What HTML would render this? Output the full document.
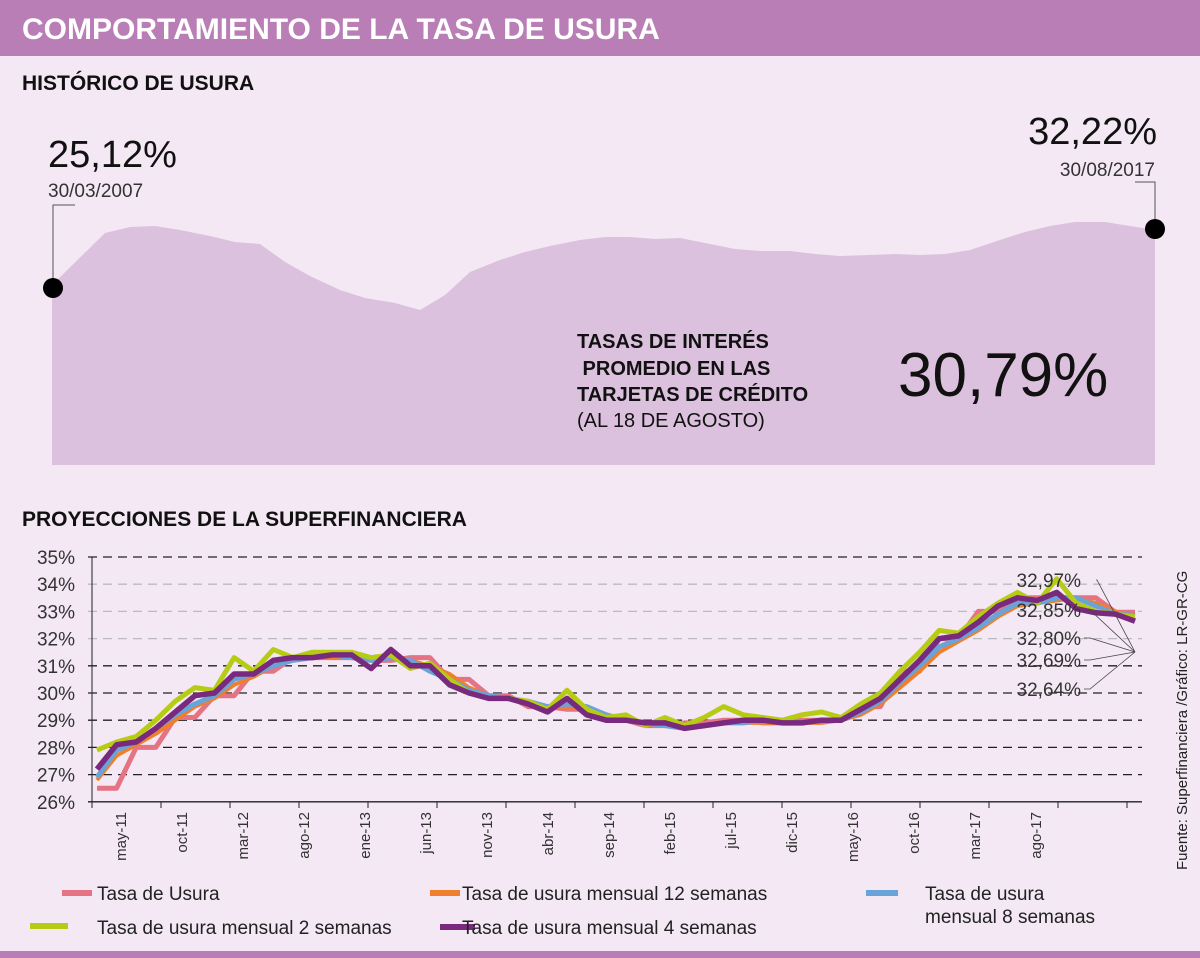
<!DOCTYPE html>
<html><head><meta charset="utf-8"><style>
body{margin:0;width:1200px;height:958px;overflow:hidden;background:#f3e8f3;font-family:"Liberation Sans",sans-serif}
svg{position:absolute;left:0;top:0}
</style></head><body>
<svg width="1200" height="958">
<rect x="0" y="0" width="1200" height="958" fill="#f3e8f3"/>
<rect x="0" y="0" width="1200" height="56" fill="#b97eb6"/>
<text x="22" y="39" fill="#fff" font-size="30" font-weight="bold">COMPORTAMIENTO DE LA TASA DE USURA</text>
<text x="22" y="90" fill="#111" font-size="21" font-weight="bold">HISTÓRICO DE USURA</text>
<path id="area" fill="#dcc1de"/>
<text x="48" y="167" font-size="38" fill="#111">25,12%</text>
<text x="48" y="197" font-size="19" fill="#333">30/03/2007</text>
<polyline points="53,288 53,205 75,205" fill="none" stroke="#555" stroke-width="1"/>
<circle cx="53" cy="288" r="10" fill="#000"/>
<text x="1157" y="144" font-size="38" fill="#111" text-anchor="end">32,22%</text>
<text x="1155" y="176" font-size="19" fill="#333" text-anchor="end">30/08/2017</text>
<polyline points="1155,228 1155,182 1135,182" fill="none" stroke="#555" stroke-width="1"/>
<circle cx="1155" cy="229" r="10" fill="#000"/>
<text x="577" y="348" font-size="20" font-weight="bold" fill="#111">TASAS DE INTERÉS</text>
<text x="577" y="375" font-size="20" font-weight="bold" fill="#111">&#160;PROMEDIO EN LAS</text>
<text x="577" y="401" font-size="20" font-weight="bold" fill="#111">TARJETAS DE CRÉDITO</text>
<text x="577" y="427" font-size="20" fill="#111">(AL 18 DE AGOSTO)</text>
<text x="898" y="396" font-size="62" fill="#111">30,79%</text>
<text x="22" y="526" fill="#111" font-size="21" font-weight="bold">PROYECCIONES DE LA SUPERFINANCIERA</text>
<g id="chart"></g>
<text transform="translate(1187,870) rotate(-90)" font-size="15" fill="#222">Fuente: Superfinanciera /Gráfico: LR-GR-CG</text>
<g>
<line x1="62" y1="893" x2="92" y2="893" stroke="#e57383" stroke-width="6"/>
<text x="97" y="900" font-size="19" fill="#222">Tasa de Usura</text>
<line x1="430" y1="893" x2="460" y2="893" stroke="#f07f2c" stroke-width="6"/>
<text x="462" y="900" font-size="19" fill="#222">Tasa de usura mensual 12 semanas</text>
<line x1="866" y1="893" x2="898" y2="893" stroke="#6aa3d8" stroke-width="6"/>
<text x="925" y="900" font-size="19" fill="#222">Tasa de usura</text>
<text x="925" y="923" font-size="19" fill="#222">mensual 8 semanas</text>
<line x1="30" y1="926" x2="68" y2="926" stroke="#b6cc14" stroke-width="6"/>
<text x="97" y="934" font-size="19" fill="#222">Tasa de usura mensual 2 semanas</text>
<line x1="440" y1="927" x2="475" y2="927" stroke="#7a2a7e" stroke-width="6"/>
<text x="462" y="934" font-size="19" fill="#222">Tasa de usura mensual 4 semanas</text>
</g>
<rect x="0" y="951" width="1200" height="7" fill="#b97eb6"/>
</svg>
<script>
const areaX=[52,105,130,155,180,210,235,260,285,310,340,365,395,420,445,470,500,525,550,580,605,630,655,680,710,735,760,790,815,840,870,895,920,945,970,1000,1025,1050,1075,1105,1130,1155];
const areaY=[285,233,227,226,230,236,242,244,262,276,290,298,303,310,295,272,260,252,246,240,237,237,239,238,244,249,251,251,254,256,255,254,255,254,250,240,232,226,222,222,226,230];
const yTicks=[26,27,28,29,30,31,32,33,34,35];
const xLabels=["may-11","oct-11","mar-12","ago-12","ene-13","jun-13","nov-13","abr-14","sep-14","feb-15","jul-15","dic-15","may-16","oct-16","mar-17","ago-17"];
const purple=[27.2,28.1,28.2,28.7,29.3,29.9,30.0,30.7,30.7,31.2,31.3,31.3,31.4,31.4,30.9,31.6,31.0,31.0,30.3,30.0,29.8,29.8,29.6,29.3,29.8,29.2,29.0,29.0,28.9,28.9,28.7,28.8,28.9,29.0,29.0,28.9,28.9,29.0,29.0,29.4,29.8,30.5,31.2,32.0,32.1,32.6,33.2,33.5,33.4,33.7,33.1,32.95,32.9,32.64];
const green=[27.9,28.2,28.4,29.0,29.7,30.2,30.1,31.3,30.8,31.6,31.3,31.5,31.5,31.5,31.3,31.4,30.9,31.1,30.5,30.0,29.8,29.8,29.7,29.4,30.1,29.4,29.1,29.2,28.8,29.1,28.8,29.1,29.5,29.2,29.1,29.0,29.2,29.3,29.1,29.6,30.0,30.8,31.5,32.3,32.2,32.8,33.3,33.7,33.3,34.2,33.3,33.0,32.9,32.80];
const blue=[26.9,27.9,28.2,28.7,29.2,29.6,29.9,30.5,30.7,31.0,31.2,31.3,31.4,31.3,31.2,31.3,31.2,30.8,30.5,30.1,29.9,29.8,29.7,29.5,29.6,29.5,29.2,29.0,28.9,28.8,28.7,28.8,28.9,28.9,29.0,28.9,28.9,29.0,29.0,29.3,29.7,30.4,31.0,31.7,32.0,32.4,32.9,33.3,33.3,33.5,33.5,33.2,32.9,32.85];
const orange=[26.8,27.7,28.1,28.5,29.0,29.5,29.8,30.3,30.6,31.0,31.2,31.3,31.3,31.3,31.2,31.3,31.2,31.0,30.7,30.2,29.9,29.8,29.7,29.5,29.5,29.4,29.2,29.0,28.9,28.8,28.8,28.8,28.9,28.9,28.9,28.9,28.9,28.9,29.0,29.2,29.6,30.2,30.8,31.5,31.9,32.3,32.8,33.2,33.3,33.4,33.5,33.3,33.0,32.69];
const pink=[26.5,26.5,28.0,28.0,29.1,29.1,29.9,29.9,30.8,30.8,31.3,31.3,31.3,31.3,31.2,31.2,31.3,31.3,30.5,30.5,29.9,29.9,29.5,29.5,29.4,29.4,29.0,29.0,28.8,28.8,28.9,28.9,29.0,29.0,28.9,28.9,29.0,29.0,29.0,29.5,29.5,30.8,30.8,32.0,32.0,33.0,33.0,33.5,33.5,33.5,33.5,33.5,32.97,32.97];
const endLabels=['32,97%','32,85%','32,80%','32,69%','32,64%'];

let d='M52,465 ';areaX.forEach((x,i)=>d+='L'+x+','+areaY[i]+' ');d+='L1155,465 Z';
document.getElementById('area').setAttribute('d',d);

const NS='http://www.w3.org/2000/svg';
const g=document.getElementById('chart');
const X0=97,X1=1135,Y35=557,PX=27.2;
const ys=v=>Y35+(35-v)*PX;
const xs=(i,n)=>X0+(X1-X0)*i/(n-1);
function mk(t,a){const e=document.createElementNS(NS,t);for(const k in a)e.setAttribute(k,a[k]);g.appendChild(e);return e;}
yTicks.forEach(v=>{
  const dark=(v<=31||v==35);
  const l=mk('line',{x1:88,x2:1142,y1:ys(v),y2:ys(v),stroke:(dark?'#222':'#bbb'),'stroke-width':1.3,'stroke-dasharray':v==26?'none':'9,6'});
  
  
  const t=mk('text',{x:75,y:ys(v)+7,'font-size':19,fill:'#333','text-anchor':'end'});
  
  
  t.textContent=v+'%';
});
mk('line',{x1:92,x2:92,y1:557,y2:806,stroke:'#222','stroke-width':1});
for(let k=0;k<16;k++){mk('line',{x1:92+k*69,x2:92+k*69,y1:802,y2:808,stroke:'#222','stroke-width':1});}
xLabels.forEach((s,k)=>{
  const x=126+k*61;
  const t=mk('text',{transform:`translate(${x},812) rotate(-90)`,'font-size':15,fill:'#333','text-anchor':'end'});
  
  
  t.textContent=s;
});
function series(arr,color,w,name){
  const p=arr.map((v,i)=>xs(i,arr.length).toFixed(1)+','+ys(v).toFixed(1)).join(' ');
  const e=mk('polyline',{points:p,fill:'none',stroke:color,'stroke-width':w,'stroke-linejoin':'round'});
  
  
}
series(pink,'#e57383',5,'series-tasa-usura');
series(orange,'#f07f2c',4,'series-12-semanas');
series(blue,'#6aa3d8',5,'series-8-semanas');
series(green,'#b6cc14',5,'series-2-semanas');
series(purple,'#7a2a7e',5.5,'series-4-semanas');
const ly=[580,610,638,660,689];
endLabels.forEach((s,k)=>{
  const t=mk('text',{x:1081,y:ly[k]+7,'font-size':19,fill:'#333','text-anchor':'end'});
  
  
  t.textContent=s;
  const sx=k==0?1097:1090;
  mk('polyline',{points:`${k==0?1096:1084},${ly[k]} ${sx},${ly[k]} 1135,652`,fill:'none',stroke:'#444','stroke-width':0.8});
});
</script>
</body></html>
